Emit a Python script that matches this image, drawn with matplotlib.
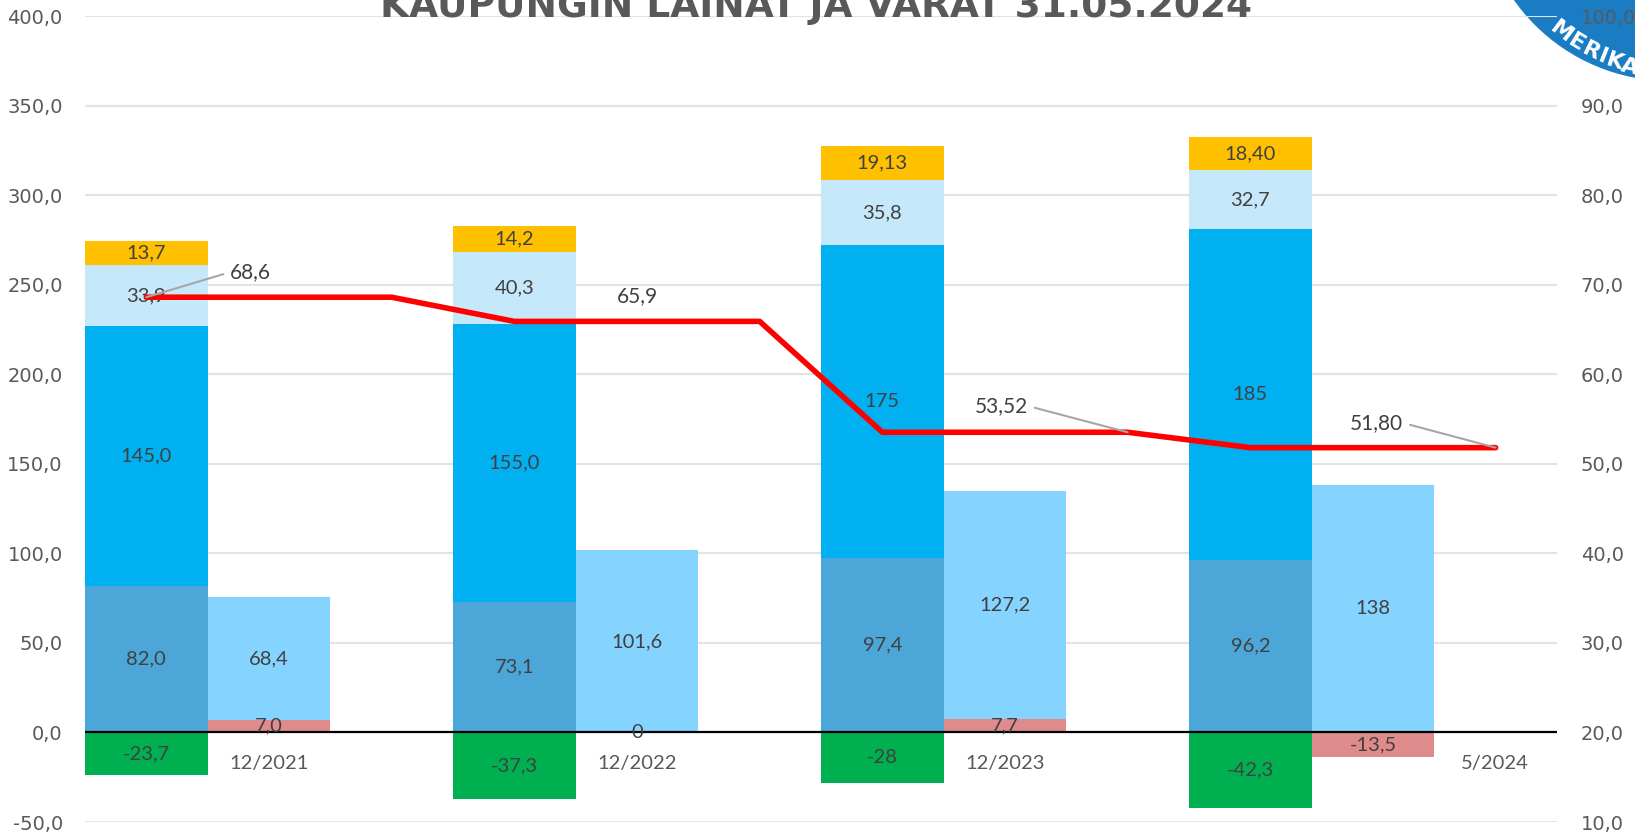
import numpy as np
import matplotlib
matplotlib.use("Agg")
import matplotlib.pyplot as plt
import matplotlib.patches as mpatches
from matplotlib.ticker import FuncFormatter, MultipleLocator

# --- data ---
periods = ['12/2021', '12/2022', '12/2023', '5/2024']
period_shift = [0, 0, 0, 88]   # last label sits further right in the original (points)

# lainat (left bar of each pair), bottom -> top
laina_base = [82.0, 73.1, 97.4, 96.2]
laina_main = [145.0, 155.0, 175, 185]
laina_pale = [33.9, 40.3, 35.8, 32.7]
laina_gold = [13.7, 14.2, 19.13, 18.40]
laina_neg = [-23.7, -37.3, -28, -42.3]

laina_base_lbl = ['82,0', '73,1', '97,4', '96,2']
laina_main_lbl = ['145,0', '155,0', '175', '185']
laina_pale_lbl = ['33,9', '40,3', '35,8', '32,7']
laina_gold_lbl = ['13,7', '14,2', '19,13', '18,40']
laina_neg_lbl = ['-23,7', '-37,3', '-28', '-42,3']

# varat (right bar of each pair)
varat_pink = [7.0, 0, 7.7, -13.5]
varat_blue = [68.4, 101.6, 127.2, 138]
varat_pink_lbl = ['7,0', '0', '7,7', '-13,5']
varat_blue_lbl = ['68,4', '101,6', '127,2', '138']

# red line on the secondary axis, one value per slot (3 slots per period)
line_vals = [68.6, 68.6, 68.6, 65.9, 65.9, 65.9, 53.52, 53.52, 53.52, 51.80, 51.80, 51.80]
line_lbl_slot = [0, 4, 8, 11]
line_lbl_text = ['68,6', '65,9', '53,52', '51,80']
line_lbl_pos = [(1.35, 71.4), (4.5, 68.7), (7.47, 56.45), (10.53, 54.55)]
line_lbl_leader = [True, False, True, True]

# --- colours ---
c_base = '#4DA6D8'
c_main = '#00B0F0'
c_pale = '#C5E9FB'
c_gold = '#FFC000'
c_neg = '#00B050'
c_vblue = '#85D3FF'
c_pink = '#E08B8B'
c_lbl = '#404040'
c_tick = '#595959'

fig = plt.figure(figsize=(16.35, 8.36), dpi=100)
fig.patch.set_facecolor('white')
ax = fig.add_axes([85 / 1635, 14 / 836, 1472 / 1635, 806 / 836])
ax2 = ax.twinx()
ax.set_zorder(1)
ax2.set_zorder(2)
ax.patch.set_visible(False)
ax2.patch.set_visible(False)

n = len(periods)
x1 = np.arange(n) * 3 + 0.5
x2 = np.arange(n) * 3 + 1.5

base = np.array(laina_base)
main = np.array(laina_main)
pale = np.array(laina_pale)
gold = np.array(laina_gold)
neg = np.array(laina_neg)
pink = np.array(varat_pink)
vblue = np.array(varat_blue)

ax.bar(x1, base, 1.0, color=c_base, zorder=2)
ax.bar(x1, main, 1.0, bottom=base, color=c_main, zorder=2)
ax.bar(x1, pale, 1.0, bottom=base + main, color=c_pale, zorder=2)
ax.bar(x1, gold, 1.0, bottom=base + main + pale, color=c_gold, zorder=2)
ax.bar(x1, neg, 1.0, color=c_neg, zorder=2)

ax.bar(x2, pink, 1.0, color=c_pink, zorder=2)
vb_bottom = np.maximum(pink, 0)
ax.bar(x2, vblue, 1.0, bottom=vb_bottom, color=c_vblue, zorder=2)

lbl_kw = dict(ha='center', va='center', fontsize=14.5, color=c_lbl, family='Lato', zorder=4)
for i in range(n):
    ax.text(x1[i], base[i] / 2, laina_base_lbl[i], **lbl_kw)
    ax.text(x1[i], base[i] + main[i] / 2, laina_main_lbl[i], **lbl_kw)
    ax.text(x1[i], base[i] + main[i] + pale[i] / 2, laina_pale_lbl[i], **lbl_kw)
    ax.text(x1[i], base[i] + main[i] + pale[i] + gold[i] / 2, laina_gold_lbl[i], **lbl_kw)
    ax.text(x1[i], neg[i] / 2, laina_neg_lbl[i], **lbl_kw)
    ax.text(x2[i], pink[i] / 2, varat_pink_lbl[i], **lbl_kw)
    ax.text(x2[i], vb_bottom[i] + vblue[i] / 2, varat_blue_lbl[i], **lbl_kw)
    ax.annotate(periods[i], xy=(x2[i], 0), xytext=(period_shift[i], -22.7),
                textcoords='offset points', ha='center', va='center',
                fontsize=14.5, color=c_tick, family='Lato')

ax.axhline(0, color='black', lw=1.6, zorder=3)

ax.set_xlim(0, 3 * n)
ax.set_ylim(-50, 400)
ax2.set_ylim(10, 100)
ax.yaxis.set_major_locator(MultipleLocator(50))
ax2.yaxis.set_major_locator(MultipleLocator(10))
fmt = FuncFormatter(lambda v, p: f'{v:.1f}'.replace('.', ','))
ax.yaxis.set_major_formatter(fmt)
ax2.yaxis.set_major_formatter(fmt)
ax.grid(axis='y', color='#E3E3E3', lw=1.5, zorder=0)
ax.set_axisbelow(True)
ax.set_xticks([])
for a in (ax, ax2):
    for s in a.spines.values():
        s.set_visible(False)
ax.tick_params(axis='y', length=0, pad=16, labelsize=14, labelcolor=c_tick)
ax2.tick_params(axis='y', length=0, pad=17, labelsize=14, labelcolor=c_tick)

# red line
slots = np.arange(len(line_vals)) + 0.5
ax2.plot(slots, line_vals, color='#FF0000', lw=4, solid_capstyle='round',
         solid_joinstyle='round', zorder=3)
for k, slot in enumerate(line_lbl_slot):
    px, py = line_lbl_pos[k]
    if line_lbl_leader[k]:
        rel = (0, 0.5) if px > slots[slot] else (1, 0.5)
        ax2.annotate(line_lbl_text[k], xy=(slots[slot], line_vals[slot]), xytext=(px, py),
                     ha='center', va='center', fontsize=15, color=c_lbl, family='Lato',
                     arrowprops=dict(arrowstyle='-', color='#A6A6A6', lw=1.5,
                                     relpos=rel, shrinkA=3, shrinkB=0), zorder=4)
    else:
        ax2.text(px, py, line_lbl_text[k], ha='center', va='center',
                 fontsize=15, color=c_lbl, family='Lato', zorder=4)

# title (partly cut off at the top, as in the original)
fig.text(816 / 1635, 1 - 17 / 836, 'KAUPUNGIN LAINAT JA VARAT 31.05.2024',
         ha='center', va='baseline', fontsize=27, fontweight='bold', color=c_tick,
         family='DejaVu Sans')

# logo in the corner
cx, cy = 1670, -110
logo = mpatches.Circle((cx / 100, (836 - cy) / 100), 1.91, transform=fig.dpi_scale_trans,
                       facecolor='#1A7DC4', edgecolor='none', zorder=0.5)
fig.patches.append(logo)
logo_letters = ['M', 'E', 'R', 'I', 'K', 'A']
logo_px = [(1561, 32), (1577, 43), (1591, 51), (1603, 57), (1615, 62), (1630, 67)]
for ch, (px, py) in zip(logo_letters, logo_px):
    rot = np.degrees(np.arctan2(py - cy, cx - px)) - 90
    fig.text(px / 1635, 1 - py / 836, ch, rotation=rot, rotation_mode='anchor',
             ha='center', va='center', color='white', fontsize=16, fontweight='bold',
             family='DejaVu Sans', zorder=3)

fig.savefig('out.png', dpi=100)
